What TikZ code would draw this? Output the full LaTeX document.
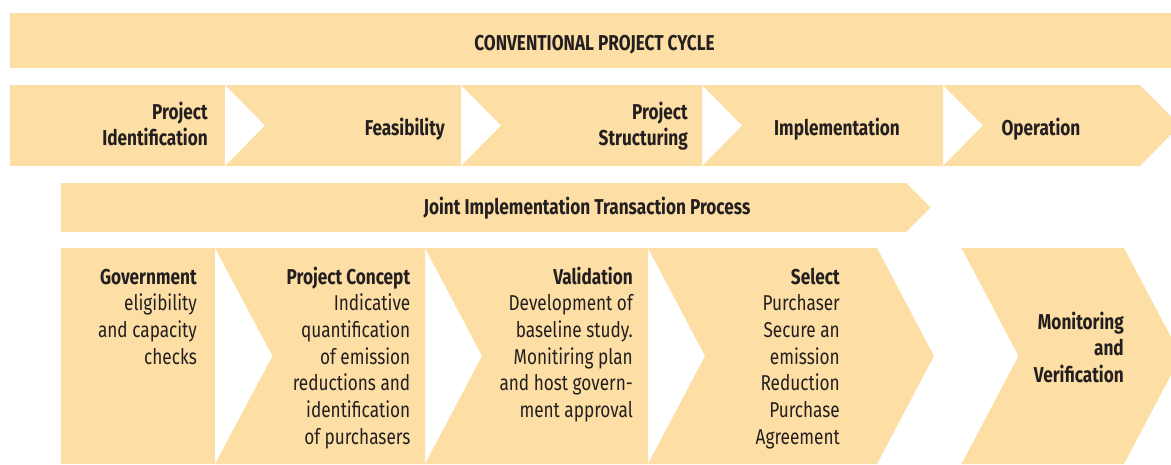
\documentclass[tikz,border=0pt]{standalone}
\usepackage{fontspec}
\setmainfont{Fira Sans}[FakeStretch=0.8]
\definecolor{phasefill}{HTML}{FDDFA5}
\definecolor{ink}{HTML}{231F20}
\tikzset{
  phase/.style={fill=phasefill},
  stage/.style={font=\fontsize{21.5}{26.7}\selectfont\bfseries, text=ink, inner sep=0pt, align=right},
  steptext/.style={font=\fontsize{21.5}{26.7}\selectfont, text=ink, inner sep=0pt, align=right, anchor=base east}
}
\begin{document}
\begin{tikzpicture}[x=1pt,y=-1pt]
\useasboundingbox (0,0) rectangle (1171,464);
\clip (0,0) rectangle (1171,464);
% conventional cycle
\fill[phase] (10,13) rectangle (1171,68);
\fill[phase] (10,85) -- (225,85) -- (225,166) -- (10,166) -- cycle;
\fill[phase] (225,85) -- (461,85) -- (461,166) -- (225,166) -- (265,125.5) -- cycle;
\fill[phase] (461,85) -- (702,85) -- (702,166) -- (461,166) -- (501,125.5) -- cycle;
\fill[phase] (702,85) -- (943,85) -- (943,166) -- (702,166) -- (742,125.5) -- cycle;
\fill[phase] (943,85) -- (1140,85) -- (1180,125.5) -- (1140,166) -- (943,166) -- (983,125.5) -- cycle;
% JI transaction process
\fill[phase] (61,183) -- (906,183) -- (930.5,207.5) -- (906,232) -- (61,232) -- cycle;
\fill[phase] (61,248) -- (215,248) -- (215,464) -- (61,464) -- cycle;
\fill[phase] (215,248) -- (425,248) -- (425,464) -- (215,464) -- (272.5,356) -- cycle;
\fill[phase] (425,248) -- (648,248) -- (648,464) -- (425,464) -- (482,356) -- cycle;
\fill[phase] (648,248) -- (877,248) -- (934,356) -- (877,464) -- (648,464) -- (705,356) -- cycle;
\fill[phase] (961.5,248) -- (1124,248) -- (1181,356) -- (1124,464) -- (961.5,464) -- (1018.5,356) -- cycle;

% base anchor of a multi-line node = last line
\node[stage, anchor=base] (cycle) at (594.5,50) {CONVENTIONAL PROJECT CYCLE};
\node[stage, anchor=base east] (ident) at (208,145.7) {Project\\Identification};
\node[stage, anchor=base east] (feas) at (445,135) {Feasibility};
\node[stage, anchor=base east] (struct) at (688,145.7) {Project\\Structuring};
\node[stage, anchor=base] (impl) at (837,135) {Implementation};
\node[stage, anchor=base] (oper) at (1041,135) {Operation};
\node[stage, anchor=base] (joint) at (587,214) {Joint Implementation Transaction Process};

\node[steptext] (gov) at (197,364.1) {\textbf{Government}\\eligibility\\and capacity\\checks};
\node[steptext] (concept) at (410.5,444.2) {\textbf{Project Concept}\\Indicative\\quantification\\of emission\\reductions and\\identification\\of purchasers};
\node[steptext] (valid) at (633,417.5) {\textbf{Validation}\\Development of\\baseline study.\\Monitiring plan\\and host govern-\\ment approval};
\node[steptext] (select) at (840,444.2) {\textbf{Select}\\Purchaser\\Secure an\\emission\\Reduction\\Purchase\\Agreement};
\node[stage, anchor=base east] (monitor) at (1124,382.4) {Monitoring\\and\\Verification};
\end{tikzpicture}
\end{document}
